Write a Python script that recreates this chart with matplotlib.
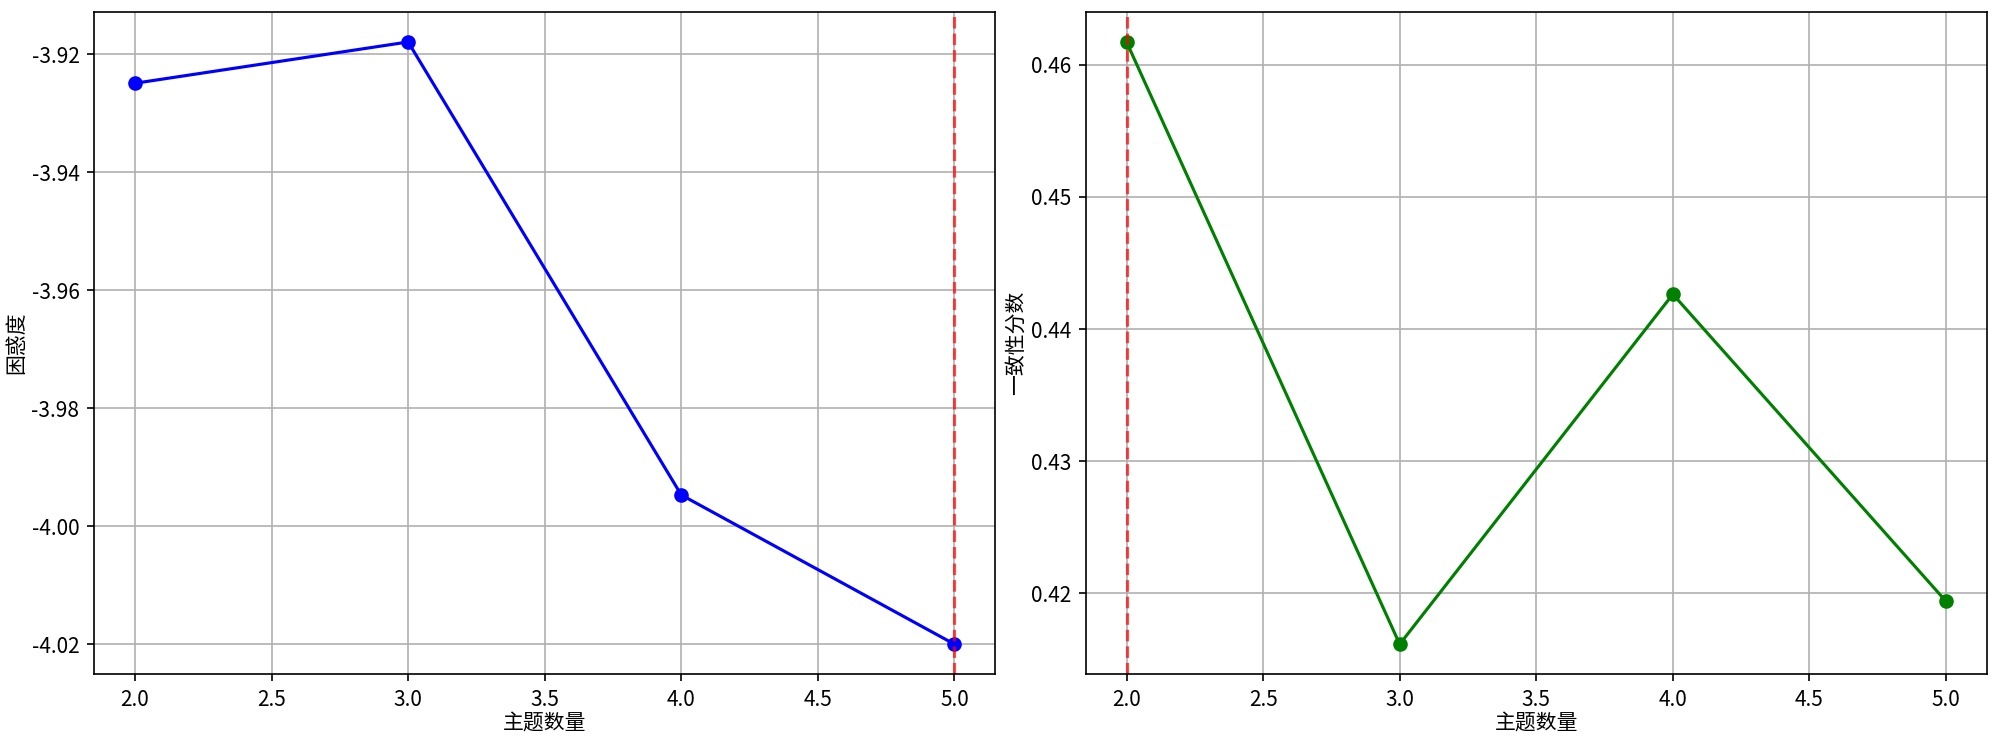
import matplotlib
matplotlib.use('Agg')
import matplotlib.pyplot as plt

plt.rcParams['font.family'] = ['Noto Sans CJK SC', 'DejaVu Sans']
plt.rcParams['axes.unicode_minus'] = False

# 主题数量与评估指标
num_topics = [2, 3, 4, 5]
perplexity = [-3.9249, -3.9179, -3.9947, -4.0200]
coherence = [0.46171, 0.41616, 0.44263, 0.41940]

best_perp = 5
best_coh = 2

fig = plt.figure(figsize=(2000 / 150, 741 / 150), dpi=150)

# 困惑度
ax1 = plt.subplot(121)
ax1.plot(num_topics, perplexity, 'bo-')
ax1.axvline(x=best_perp, color='r', linestyle='--', alpha=0.7)
ax1.set_xlabel('主题数量', labelpad=1)
ax1.set_ylabel('困惑度', labelpad=2)
ax1.grid(True)

# 一致性分数
ax2 = plt.subplot(122)
ax2.plot(num_topics, coherence, 'go-')
ax2.axvline(x=best_coh, color='r', linestyle='--', alpha=0.7)
ax2.set_xlabel('主题数量', labelpad=1)
ax2.set_ylabel('一致性分数', labelpad=2)
ax2.grid(True)

plt.subplots_adjust(left=0.047, right=0.9935, top=0.984, bottom=0.09, wspace=0.1)
plt.savefig('out.png', dpi=150)
